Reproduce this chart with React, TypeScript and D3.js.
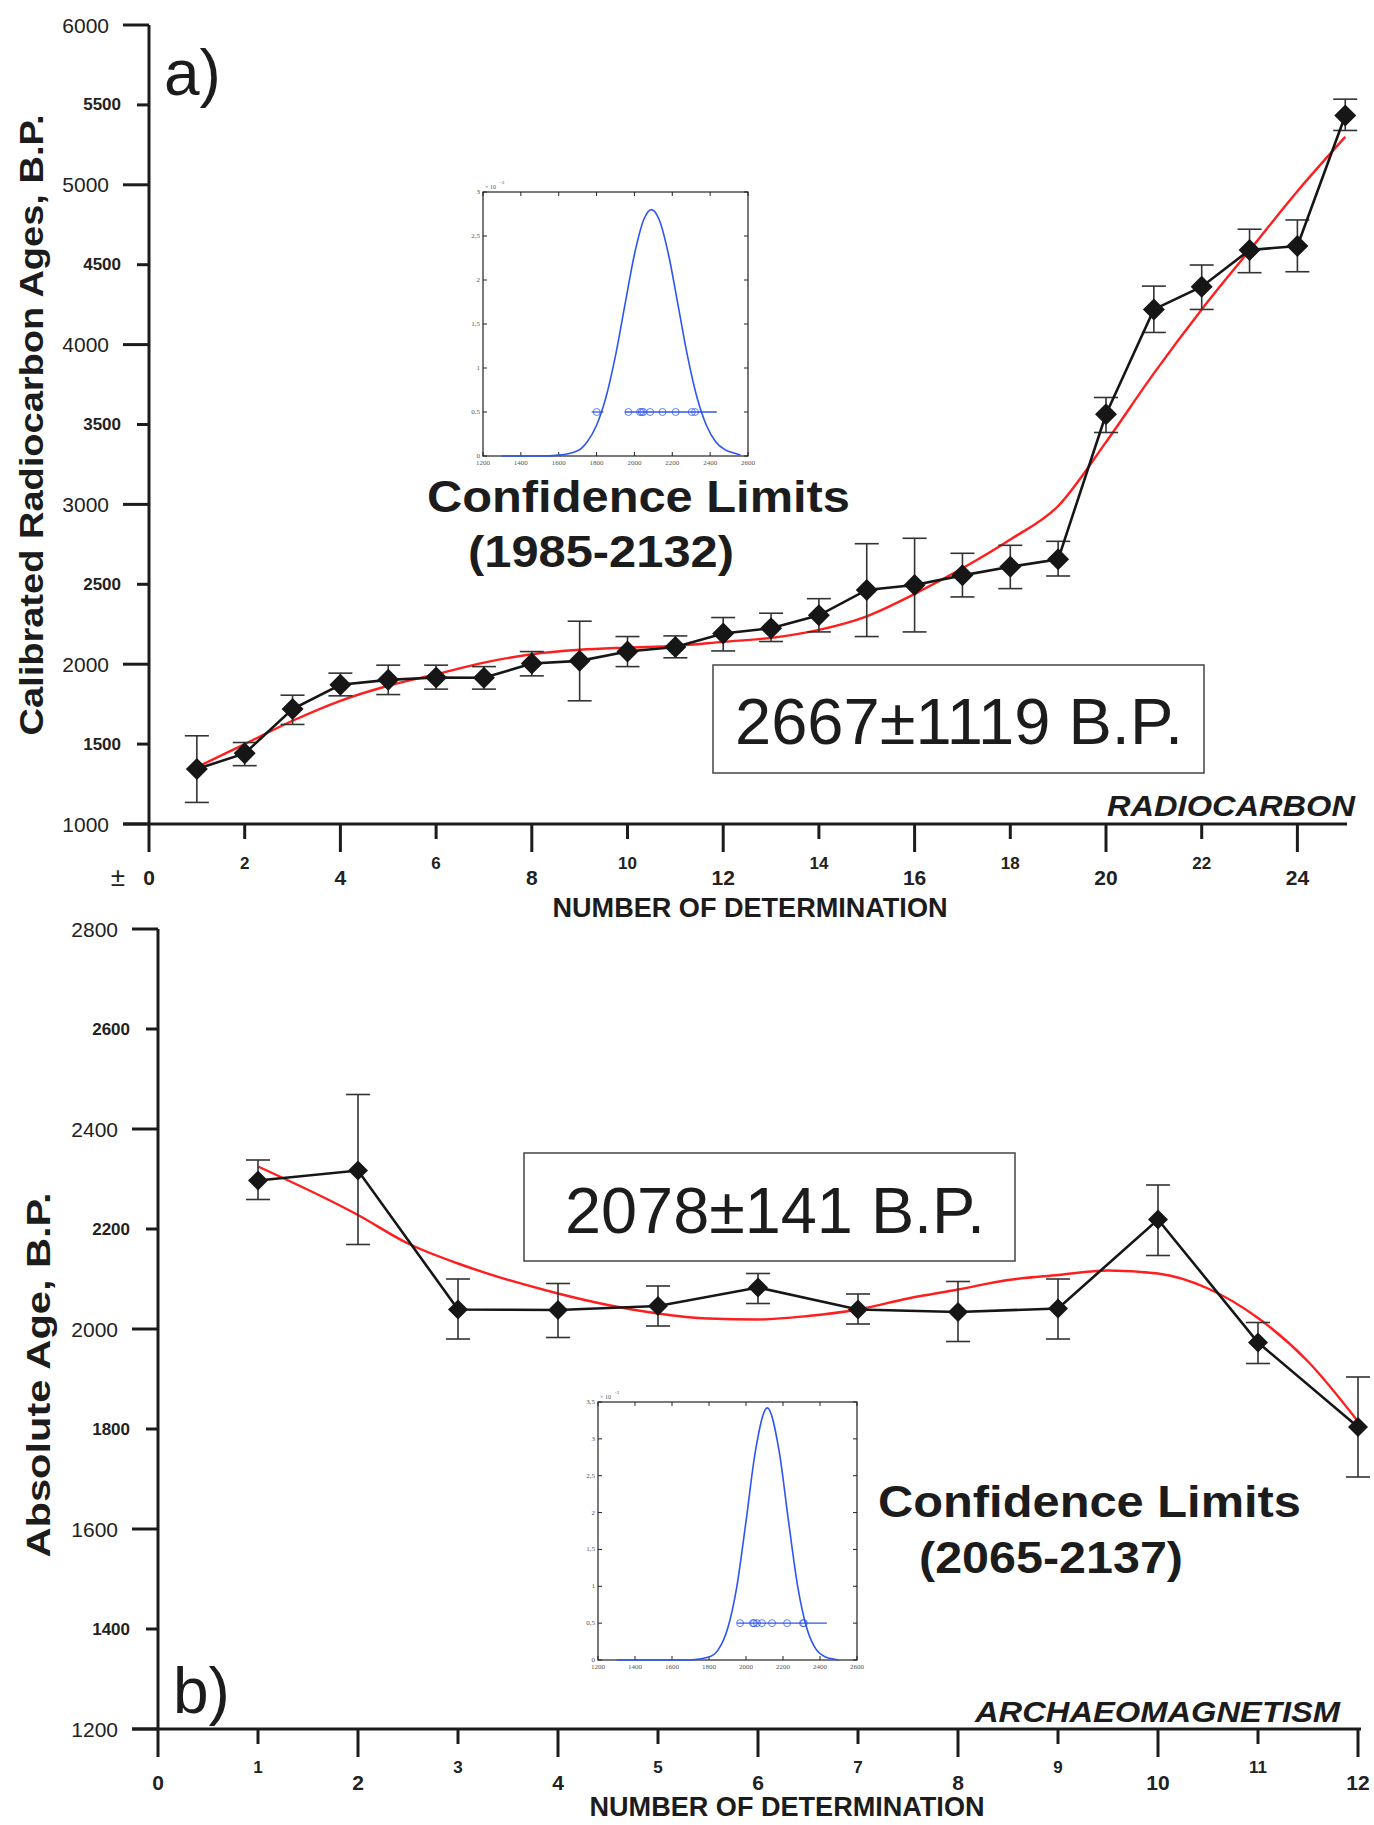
import React from "react";
import * as d3 from "d3";

// ---- panel a: radiocarbon ----
const radioN = [1, 2, 3, 4, 5, 6, 7, 8, 9, 10, 11, 12, 13, 14, 15, 16, 17, 18, 19, 20, 21, 22, 23, 24, 25];
const radioAge = [1344, 1442, 1719, 1871, 1902, 1917, 1915, 2004, 2021, 2079, 2108, 2192, 2225, 2306, 2465, 2496, 2556, 2610, 2656, 3564, 4220, 4362, 4592, 4617, 5434];
const radioHigh = [1552, 1510, 1806, 1944, 1994, 1994, 1985, 2079, 2269, 2173, 2177, 2292, 2319, 2410, 2754, 2788, 2694, 2744, 2769, 3669, 4366, 4498, 4722, 4780, 5536];
const radioLow = [1135, 1365, 1623, 1802, 1810, 1844, 1844, 1927, 1771, 1985, 2040, 2083, 2142, 2202, 2173, 2202, 2421, 2473, 2552, 3450, 4076, 4220, 4450, 4456, 5340];
const radioFitN = [1.1, 2, 3, 4, 5, 6, 7, 8, 9, 10, 11, 12, 13, 14, 15, 16, 17, 18, 19, 20, 21, 22, 23, 24, 25];
const radioFit = [1370, 1500, 1646, 1771, 1865, 1937, 2010, 2062, 2090, 2104, 2115, 2140, 2165, 2215, 2300, 2440, 2600, 2780, 2990, 3390, 3820, 4220, 4590, 4960, 5300];
const radioYTicks = [1000, 1500, 2000, 2500, 3000, 3500, 4000, 4500, 5000, 5500, 6000];
const radioXTicks = [0, 2, 4, 6, 8, 10, 12, 14, 16, 18, 20, 22, 24];

// ---- panel b: archaeomagnetism ----
const archN = [1, 2, 3, 4, 5, 6, 7, 8, 9, 10, 11, 12];
const archAge = [2297, 2317, 2039, 2038, 2046, 2083, 2039, 2034, 2041, 2219, 1973, 1804];
const archHigh = [2338, 2469, 2100, 2091, 2086, 2111, 2070, 2095, 2100, 2288, 2013, 1904];
const archLow = [2259, 2169, 1980, 1983, 2006, 2051, 2010, 1975, 1980, 2147, 1931, 1704];
const archFitN = [1, 2, 2.5, 3, 4, 4.5, 5, 5.5, 6, 6.5, 7, 7.5, 8, 8.5, 9, 9.5, 10, 10.5, 11, 11.5, 12];
const archFit = [2325, 2228, 2171, 2131, 2071, 2048, 2031, 2021, 2019, 2026, 2039, 2061, 2079, 2098, 2108, 2117, 2111, 2081, 2022, 1935, 1815];
const archYTicks = [1200, 1400, 1600, 1800, 2000, 2200, 2400, 2600, 2800];
const archXTicks = [0, 1, 2, 3, 4, 5, 6, 7, 8, 9, 10, 11, 12];

// ---- insets (density x 10^-3) ----
const insetXTicks = [1200, 1400, 1600, 1800, 2000, 2200, 2400, 2600];
const densAX = [1300, 1500, 1600, 1700, 1750, 1800, 1850, 1900, 1950, 2000, 2050, 2090, 2130, 2180, 2230, 2280, 2330, 2380, 2430, 2480, 2530, 2560];
const densAY = [0, 0, 0.01, 0.06, 0.16, 0.35, 0.67, 1.14, 1.72, 2.29, 2.69, 2.8, 2.69, 2.29, 1.72, 1.14, 0.67, 0.35, 0.16, 0.07, 0.03, 0.01];
const datesA = [1801, 1968, 2030, 2039, 2047, 2083, 2148, 2218, 2303, 2320];
const spansA = [[1774, 1836], [1950, 2435]];
const densBX = [1300, 1500, 1700, 1800, 1850, 1900, 1950, 2000, 2050, 2115, 2180, 2230, 2280, 2330, 2380, 2430, 2480, 2500];
const densBY = [0, 0, 0.001, 0.04, 0.14, 0.42, 0.99, 1.88, 2.82, 3.42, 2.82, 1.88, 0.99, 0.42, 0.14, 0.04, 0.01, 0];
const datesB = [1968, 2038, 2043, 2059, 2086, 2141, 2222, 2308, 2313];
const spansB = [[1952, 2437]];

const FONT = "Liberation Sans, Arial, sans-serif";
const AXIS = "#1c1c1c";

const diamond = (cx, cy, r) => `M${cx},${cy - r}L${cx + r},${cy}L${cx},${cy + r}L${cx - r},${cy}Z`;

function Inset({ left, top, width, height, yMax, xs, ys, dates, spans }) {
  const x = d3.scaleLinear().domain([1200, 2600]).range([left, left + width]);
  const y = d3.scaleLinear().domain([0, yMax]).range([top + height, top]);
  const yTicks = d3.range(0, yMax + 0.01, 0.5);
  const line = d3.line().x((d) => x(d[0])).y((d) => y(d[1])).curve(d3.curveMonotoneX);
  const blue = "#2f55f0";
  return (
    <g>
      <rect x={left} y={top} width={width} height={height} fill="none" stroke="#222" strokeWidth={1.2} />
      {insetXTicks.map((t) => (
        <g key={"x" + t}>
          <line x1={x(t)} x2={x(t)} y1={top + height} y2={top + height - 4} stroke="#222" />
          <line x1={x(t)} x2={x(t)} y1={top} y2={top + 4} stroke="#222" />
          <text x={x(t)} y={top + height + 9} fontSize={7} fontFamily="serif" fill="#555" textAnchor="middle">{t}</text>
        </g>
      ))}
      {yTicks.map((t) => (
        <g key={"y" + t}>
          <line x1={left} x2={left + 4} y1={y(t)} y2={y(t)} stroke="#222" />
          <line x1={left + width} x2={left + width - 4} y1={y(t)} y2={y(t)} stroke="#222" />
          <text x={left - 3} y={y(t) + 2} fontSize={7} fontFamily="serif" fill="#555" textAnchor="end">
            {String(t).replace(".", ",")}
          </text>
        </g>
      ))}
      <text x={left + 2} y={top - 3} fontSize={6} fontFamily="serif" fill="#555">× 10</text>
      <text x={left + 17} y={top - 8} fontSize={5} fontFamily="serif" fill="#555">-3</text>
      <path d={line(xs.map((v, i) => [v, ys[i]]))} fill="none" stroke={blue} strokeWidth={1.6} />
      {spans.map((s, i) => (
        <line key={i} x1={x(s[0])} x2={x(s[1])} y1={y(0.5)} y2={y(0.5)} stroke={blue} strokeWidth={1.3} />
      ))}
      {dates.map((d, i) => (
        <circle key={i} cx={x(d)} cy={y(0.5)} r={3.5} fill="none" stroke={blue} strokeOpacity={0.75} strokeWidth={1} />
      ))}
    </g>
  );
}

function Panel({ cfg }) {
  const x = d3.scaleLinear().domain(cfg.xDomain).range(cfg.xRange);
  const y = d3.scaleLinear().domain(cfg.yDomain).range(cfg.yRange);
  const x0 = x(0);
  const yBase = y(cfg.yDomain[0]);
  const dataLine = d3.line().x((d) => x(d[0])).y((d) => y(d[1]));
  const fitLine = d3.line().x((d) => x(d[0])).y((d) => y(d[1])).curve(d3.curveMonotoneX);
  const pts = cfg.n.map((n, i) => [n, cfg.age[i]]);
  return (
    <g fontFamily={FONT}>
      {/* y axis */}
      <line x1={x0} x2={x0} y1={y(cfg.yDomain[1])} y2={yBase + 28} stroke={AXIS} strokeWidth={3} />
      {cfg.yTicks.map((t) => {
        const major = cfg.yMajor(t);
        return (
          <g key={"yt" + t}>
            <line x1={x0 - (major ? 26 : 12)} x2={x0} y1={y(t)} y2={y(t)} stroke={AXIS} strokeWidth={3} />
            <text
              x={x0 - (major ? 40 : 28)}
              y={y(t)}
              dominantBaseline="central"
              textAnchor="end"
              fontSize={major ? 21 : 17}
              fontWeight={major ? "normal" : "bold"}
              fill="#222"
            >
              {t}
            </text>
          </g>
        );
      })}
      {/* x axis */}
      <line x1={x0 - 26} x2={cfg.xAxisEnd} y1={yBase} y2={yBase} stroke={AXIS} strokeWidth={3} />
      {cfg.xTicks.map((t) => {
        const major = cfg.xMajor(t);
        return (
          <g key={"xt" + t}>
            {t !== 0 && (
              <line x1={x(t)} x2={x(t)} y1={yBase} y2={yBase + (major ? 28 : 15)} stroke={AXIS} strokeWidth={3} />
            )}
            <text
              x={x(t)}
              y={yBase + (major ? cfg.majorLabelDy : cfg.minorLabelDy)}
              dominantBaseline="central"
              textAnchor="middle"
              fontSize={major ? 21 : 17}
              fontWeight="bold"
              fill="#222"
            >
              {t}
            </text>
          </g>
        );
      })}
      {cfg.plusMinus && (
        <text x={x0 - 31} y={yBase + cfg.majorLabelDy} dominantBaseline="central" textAnchor="middle" fontSize={26} fill="#222">±</text>
      )}
      <text x={cfg.xTitle[0]} y={cfg.xTitle[1]} textAnchor="middle" fontSize={27} fontWeight="bold" fill="#1c1c1c"
        textLength={395} lengthAdjust="spacingAndGlyphs">NUMBER OF DETERMINATION</text>
      <text transform={`translate(${cfg.yTitle[0]},${cfg.yTitle[1]}) rotate(-90)`} textAnchor="middle" dominantBaseline="central"
        fontSize={34} fontWeight="bold" fill="#1c1c1c" textLength={cfg.yTitleLen} lengthAdjust="spacingAndGlyphs">
        {cfg.yTitleText}
      </text>
      <text x={cfg.method[0]} y={cfg.method[1]} textAnchor="end" fontSize={30} fontWeight="bold" fontStyle="italic" fill="#1c1c1c"
        textLength={cfg.methodLen} lengthAdjust="spacingAndGlyphs">{cfg.methodText}</text>
      <text x={cfg.tag[0]} y={cfg.tag[1]} fontSize={64} fill="#1c1c1c">{cfg.tagText}</text>

      {/* result box */}
      <rect x={cfg.box[0]} y={cfg.box[1]} width={491} height={108} fill="#fff" stroke="#444" strokeWidth={1.5} />
      <text x={cfg.boxText[0]} y={cfg.boxText[1]} fontSize={64} fill="#1c1c1c" textLength={cfg.boxTextLen} lengthAdjust="spacingAndGlyphs">
        {cfg.resultText}
      </text>

      {/* confidence text */}
      <text x={cfg.conf[0]} y={cfg.conf[1]} fontSize={44} fontWeight="bold" fill="#1c1c1c" textLength={423} lengthAdjust="spacingAndGlyphs">
        Confidence Limits
      </text>
      <text x={cfg.conf2[0]} y={cfg.conf2[1]} fontSize={44} fontWeight="bold" fill="#1c1c1c" textLength={cfg.conf2Len} lengthAdjust="spacingAndGlyphs">
        {cfg.limitsText}
      </text>

      {/* fit, error bars, data */}
      <path d={fitLine(cfg.fitN.map((n, i) => [n, cfg.fit[i]]))} fill="none" stroke="#ff1e1e" strokeWidth={2.4} />
      {cfg.n.map((n, i) => (
        <g key={"e" + n} stroke="#333" strokeWidth={1.6}>
          <line x1={x(n)} x2={x(n)} y1={y(cfg.high[i])} y2={y(cfg.low[i])} />
          <line x1={x(n) - 12} x2={x(n) + 12} y1={y(cfg.high[i])} y2={y(cfg.high[i])} />
          <line x1={x(n) - 12} x2={x(n) + 12} y1={y(cfg.low[i])} y2={y(cfg.low[i])} />
        </g>
      ))}
      <path d={dataLine(pts)} fill="none" stroke="#161616" strokeWidth={2.6} />
      {pts.map((p) => (
        <path key={"d" + p[0]} d={diamond(x(p[0]), y(p[1]), cfg.markR)} fill="#161616" />
      ))}
    </g>
  );
}

const cfgA = {
  xDomain: [0, 25], xRange: [149, 149 + 25 * 47.85], yDomain: [1000, 6000], yRange: [824, 25],
  xAxisEnd: 1347, yTicks: radioYTicks, xTicks: radioXTicks,
  yMajor: (t) => t % 1000 === 0, xMajor: (t) => t % 4 === 0,
  majorLabelDy: 53, minorLabelDy: 39, plusMinus: true,
  xTitle: [750, 917], yTitle: [31, 425], yTitleLen: 621, yTitleText: "Calibrated Radiocarbon Ages, B.P.",
  method: [1355, 816], methodLen: 248, methodText: "RADIOCARBON",
  tag: [164, 95], tagText: "a)",
  box: [713, 665], boxText: [735, 744], boxTextLen: 448, resultText: "2667±1119 B.P.",
  conf: [427, 512], conf2: [468, 567], conf2Len: 266, limitsText: "(1985-2132)",
  n: radioN, age: radioAge, high: radioHigh, low: radioLow, fitN: radioFitN, fit: radioFit, markR: 11,
};

const cfgB = {
  xDomain: [0, 12], xRange: [158, 1358], yDomain: [1200, 2800], yRange: [1729, 929],
  xAxisEnd: 1361, yTicks: archYTicks, xTicks: archXTicks,
  yMajor: (t) => (t - 1200) % 400 === 0, xMajor: (t) => t % 2 === 0,
  majorLabelDy: 53, minorLabelDy: 38, plusMinus: false,
  xTitle: [787, 1816], yTitle: [38, 1375], yTitleLen: 365, yTitleText: "Absolute Age, B.P.",
  method: [1340, 1722], methodLen: 365, methodText: "ARCHAEOMAGNETISM",
  tag: [173, 1713], tagText: "b)",
  box: [524, 1153], boxText: [565, 1233], boxTextLen: 420, resultText: "2078±141 B.P.",
  conf: [878, 1517], conf2: [919, 1573], conf2Len: 264, limitsText: "(2065-2137)",
  n: archN, age: archAge, high: archHigh, low: archLow, fitN: archFitN, fit: archFit, markR: 10,
};

export default function App() {
  return (
    <div style={{ position: "absolute", left: 0, top: 0 }}>
      <svg width={1374} height={1825} style={{ display: "block", background: "#fff" }}>
        <rect width={1374} height={1825} fill="#fff" />
        <Inset left={483} top={192} width={265} height={264} yMax={3} xs={densAX} ys={densAY} dates={datesA} spans={spansA} />
        <Inset left={598} top={1402} width={259} height={258} yMax={3.5} xs={densBX} ys={densBY} dates={datesB} spans={spansB} />
        <Panel cfg={cfgA} />
        <Panel cfg={cfgB} />
      </svg>
    </div>
  );
}
